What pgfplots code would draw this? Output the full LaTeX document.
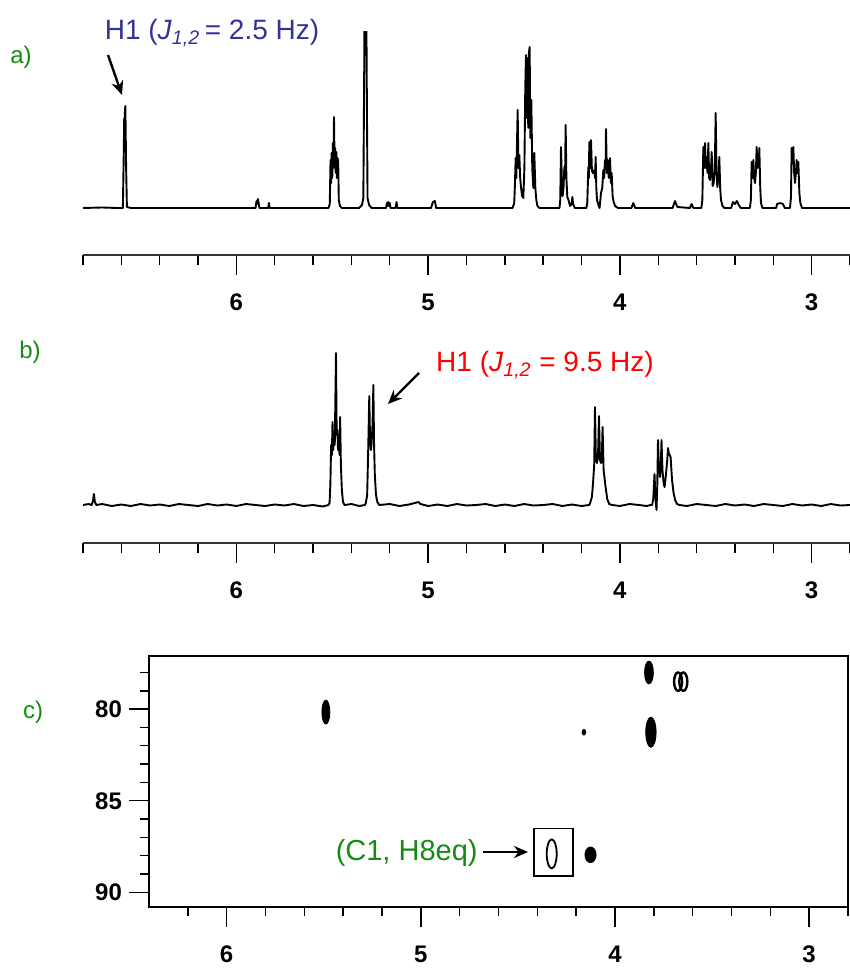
\documentclass[border=0pt]{standalone}
\usepackage{pgfplots}
\pgfplotsset{compat=1.18}
\usepackage{fontspec}
\setmainfont{Liberation Sans}
\usetikzlibrary{arrows.meta}
\definecolor{lblgreen}{RGB}{20,140,20}
\definecolor{lblblue}{RGB}{51,51,153}
\definecolor{lblred}{RGB}{255,0,0}

\pgfplotsset{
  nmr/.style={
    scale only axis, x dir=reverse,
    xmin=2.8, xmax=6.8,
    axis x line=bottom, axis y line=none,
    axis line style={-, black!80, line width=0.7pt},
    xtick={3,4,5,6}, xticklabels={3,4,5,6},
    minor xtick={2.8,3.2,3.4,3.6,3.8,4.2,4.4,4.6,4.8,5.2,5.4,5.6,5.8,6.2,6.4,6.6,6.8},
    tick align=outside,
    major tick length=10pt, minor tick length=5pt,
    every tick/.style={black, line width=0.7pt},
    xticklabel style={font=\fontsize{12}{14}\selectfont\bfseries, anchor=base, yshift=-17.75pt},
  },
  spec/.style={black, line width=0.95pt, line join=round},
}

\begin{document}
\begin{tikzpicture}
\path[use as bounding box] (0,0) rectangle (425pt,-484pt);

% ---------- a) ----------
\begin{axis}[nmr, at={(41.5pt,-127.5pt)}, anchor=south west,
    width=383.5pt, height=111.5pt, ymin=-47, ymax=176]
\addplot[spec] coordinates {
 (6.80,0) (6.70,0.5) (6.62,0) (6.592,0) (6.587,60) (6.585,90) (6.583,80) (6.581,98) (6.579,102) (6.575,40) (6.571,1) (6.55,0)
 (5.90,0) (5.895,7) (5.892,4) (5.888,9) (5.884,5) (5.880,0) (5.835,0) (5.830,5) (5.826,0)
 (5.52,0) (5.513,4) (5.509,48) (5.506,25) (5.503,55) (5.500,30) (5.497,65) (5.494,40) (5.491,91) (5.488,45) (5.485,60) (5.482,35) (5.479,56) (5.476,30) (5.472,50) (5.469,45) (5.466,8) (5.460,2) (5.45,0)
 (5.36,0) (5.345,3) (5.338,10) (5.333,150) (5.331,250) (5.323,250) (5.321,150) (5.316,10) (5.308,3) (5.295,0)
 (5.22,0) (5.215,5) (5.212,2) (5.208,6) (5.204,2) (5.200,5) (5.196,0) (5.17,0) (5.165,6) (5.160,0)
 (4.985,0) (4.975,6) (4.965,7) (4.958,0)
 (4.56,0) (4.551,5) (4.548,20) (4.5436,50) (4.540,30) (4.5332,98) (4.529,40) (4.5245,53) (4.520,30) (4.5158,21) (4.510,12) (4.5036,10) (4.498,40) (4.4935,120) (4.4897,153) (4.487,90) (4.484,150) (4.481,146) (4.478,80) (4.4745,155) (4.4706,161) (4.467,70) (4.4619,108) (4.457,40) (4.4515,20) (4.4463,55) (4.441,20) (4.4358,8) (4.43,2) (4.42,0)
 (4.315,0) (4.311,8) (4.3072,61) (4.3030,30) (4.2985,12) (4.294,20) (4.2898,41) (4.2860,30) (4.2829,83) (4.2790,30) (4.2742,11) (4.268,8) (4.26,2) (4.252,4) (4.248,11) (4.244,4) (4.235,0)
 (4.175,0) (4.170,5) (4.1646,41) (4.1620,30) (4.1594,66) (4.155,40) (4.1507,68) (4.146,38) (4.142,35) (4.1337,38) (4.130,30) (4.1263,51) (4.123,20) (4.1194,8) (4.112,3)
 (4.106,0) (4.0985,15) (4.092,20) (4.0863,38) (4.082,30) (4.0777,48) (4.0745,40) (4.0725,79) (4.068,35) (4.0638,48) (4.058,30) (4.0516,50) (4.047,25) (4.0429,35) (4.038,12) (4.0325,6) (4.025,2) (4.01,0)
 (3.94,0) (3.93,5) (3.92,0) (3.725,0) (3.713,7) (3.70,1) (3.635,0) (3.626,4) (3.617,0)
 (3.575,0) (3.570,8) (3.5648,61) (3.5605,40) (3.5561,65) (3.5518,40) (3.5474,51) (3.543,35) (3.5387,65) (3.5343,30) (3.530,28) (3.5256,35) (3.5213,56) (3.516,22) (3.5109,25) (3.505,40) (3.5005,95) (3.496,35) (3.4918,21) (3.486,30) (3.4814,51) (3.477,20) (3.4727,8) (3.465,2) (3.455,0)
 (3.42,0) (3.41,6) (3.40,4) (3.39,7) (3.38,3) (3.37,0)
 (3.322,0) (3.317,8) (3.3128,46) (3.309,30) (3.3041,48) (3.300,30) (3.2954,25) (3.291,35) (3.2867,61) (3.282,40) (3.278,50) (3.275,45) (3.2728,60) (3.268,20) (3.2641,5) (3.257,0)
 (3.185,0) (3.18,4) (3.165,5) (3.15,4) (3.14,0)
 (3.113,0) (3.108,10) (3.1042,60) (3.100,45) (3.0955,61) (3.091,35) (3.0868,25) (3.082,35) (3.0781,48) (3.074,35) (3.0694,46) (3.064,15) (3.059,5) (3.05,0) (2.80,0)
};
\end{axis}

% ---------- b) ----------
\begin{axis}[nmr, at={(41.5pt,-271.5pt)}, anchor=south west,
    width=383.5pt, height=106.5pt, ymin=-38, ymax=175]
\addplot[spec] coordinates {
 (6.80,0) (6.77,1) (6.755,0) (6.748,4) (6.743,11) (6.738,3) (6.73,0) (6.70,1) (6.65,-1) (6.60,0.5) (6.55,-1) (6.50,1) (6.45,-0.5) (6.40,0.5) (6.35,-1) (6.30,1) (6.25,0) (6.20,-1) (6.15,1) (6.10,-0.5) (6.05,0.5) (6.00,-1) (5.95,1) (5.90,0) (5.85,-1) (5.80,0.5) (5.75,-0.5) (5.70,1) (5.65,-1) (5.60,0) (5.55,-1.5) (5.52,0)
 (5.514,2) (5.510,20) (5.506,60) (5.502,50) (5.4988,83) (5.495,55) (5.491,70) (5.487,60) (5.4835,110) (5.4806,152) (5.477,70) (5.473,75) (5.470,55) (5.466,60) (5.462,50) (5.459,88) (5.455,40) (5.450,15) (5.444,3) (5.436,0)
 (5.40,1) (5.36,-1) (5.33,0)
 (5.325,2) (5.318,10) (5.312,60) (5.307,109) (5.303,65) (5.299,55) (5.2955,60) (5.290,80) (5.2857,120) (5.282,60) (5.278,30) (5.272,10) (5.265,3) (5.255,0)
 (5.20,1) (5.15,-1) (5.10,0.5) (5.05,3) (5.04,1) (5.00,-1) (4.95,0.5) (4.90,-1) (4.85,1) (4.80,-0.5) (4.75,0) (4.70,1) (4.65,-1) (4.60,0.5) (4.55,-1) (4.50,1) (4.45,-0.5) (4.40,0) (4.35,1) (4.30,-1) (4.25,0.5) (4.20,-1) (4.16,0)
 (4.155,2) (4.146,8) (4.140,22) (4.134,40) (4.1299,98) (4.125,45) (4.1195,42) (4.114,50) (4.109,89) (4.104,45) (4.0986,42) (4.094,50) (4.0902,78) (4.085,35) (4.0746,18) (4.066,6) (4.056,1) (4.04,0)
 (4.00,-1) (3.95,1) (3.90,0) (3.86,-1) (3.84,0)
 (3.832,0) (3.826,6) (3.8195,31) (3.814,5) (3.809,-5) (3.805,20) (3.8013,65) (3.797,40) (3.791,28) (3.787,35) (3.783,65) (3.778,35) (3.772,22) (3.767,18) (3.760,30) (3.753,45) (3.749,57) (3.745,52) (3.7356,48) (3.728,25) (3.720,12) (3.712,5) (3.702,1) (3.69,0)
 (3.65,-1) (3.60,1) (3.55,0) (3.50,-1) (3.45,1) (3.40,-0.5) (3.35,0.5) (3.30,-1) (3.25,1) (3.20,0) (3.15,-1) (3.10,1) (3.05,-0.5) (3.00,0.5) (2.95,-1) (2.90,1) (2.85,-0.5) (2.80,0)
};
\end{axis}

% ---------- c) ----------
\begin{axis}[at={(74.5pt,-453.5pt)}, anchor=south west, scale only axis,
    width=349.5pt, height=125.5pt,
    x dir=reverse, y dir=reverse,
    xmin=2.8, xmax=6.4, ymin=77.1, ymax=90.8,
    axis line style={black, line width=0.8pt},
    xtick={3,4,5,6}, xticklabels={3,4,5,6},
    minor xtick={2.8,3.2,3.4,3.6,3.8,4.2,4.4,4.6,4.8,5.2,5.4,5.6,5.8,6.2},
    ytick={80,85,90}, yticklabels={80,85,90},
    minor ytick={78,79,81,82,83,84,86,87,88,89},
    xtick pos=bottom, ytick pos=left,
    tick align=outside,
    major tick length=10pt, minor tick length=4.5pt,
    every tick/.style={black, line width=0.7pt},
    xticklabel style={font=\fontsize{12}{14}\selectfont\bfseries, anchor=base, yshift=-17.75pt},
    yticklabel style={font=\fontsize{12}{14}\selectfont\bfseries},
]
\addplot[only marks, mark=*, mark size=2pt, mark options={yscale=3, fill=black}] coordinates {(5.489,80.16)};
\addplot[only marks, mark=*, mark size=0.9pt, mark options={yscale=1.6}] coordinates {(4.16,81.26)};
\addplot[only marks, mark=*, mark size=2.2pt, mark options={yscale=2.6}] coordinates {(3.825,78.0)};
\addplot[only marks, mark=o, mark size=2pt, mark options={yscale=2.3, line width=1.2pt}] coordinates {(3.675,78.5) (3.648,78.5)};
\addplot[only marks, mark=*, mark size=2.6pt, mark options={yscale=2.9}] coordinates {(3.815,81.26)};
\addplot[only marks, mark=o, mark size=2.5pt, mark options={yscale=2.9, line width=0.9pt}] coordinates {(4.326,87.9)};
\addplot[only marks, mark=*, mark size=2.8pt, mark options={yscale=1.4}] coordinates {(4.126,87.95)};
\draw[black, line width=0.7pt] (axis cs:4.417,86.5) rectangle (axis cs:4.216,89.1);
\end{axis}

% ---------- annotations ----------
\node[lblgreen, font=\fontsize{12}{14}\selectfont] at (10.5pt,-28.5pt) {a)};
\node[lblgreen, font=\fontsize{12}{14}\selectfont] at (15pt,-176pt) {b)};
\node[lblgreen, font=\fontsize{12}{14}\selectfont] at (16.5pt,-356pt) {c)};
\node[lblblue, font=\fontsize{14}{16}\selectfont] at (106pt,-16.5pt)
  {H1 (\textit{J}\textsubscript{\textit{1,2}}\,= 2.5 Hz)};
\node[lblred, font=\fontsize{14}{16}\selectfont] at (272.5pt,-182.5pt)
  {H1 (\textit{J}\textsubscript{\textit{1,2}} = 9.5 Hz)};
\node[lblgreen, font=\fontsize{14.5}{16}\selectfont, anchor=east, inner sep=0pt] at (239pt,-426.5pt) {(C1, H8eq)};
\draw[-{Stealth[length=7pt,width=6pt]}, line width=1.2pt] (54pt,-27.5pt) -- (61pt,-47.5pt);
\draw[-{Stealth[length=7pt,width=6pt]}, line width=1.2pt] (209.5pt,-186.5pt) -- (194pt,-202pt);
\draw[-{Stealth[length=7pt,width=6pt]}, line width=1.2pt] (241.5pt,-426pt) -- (264pt,-426pt);
\end{tikzpicture}
\end{document}
